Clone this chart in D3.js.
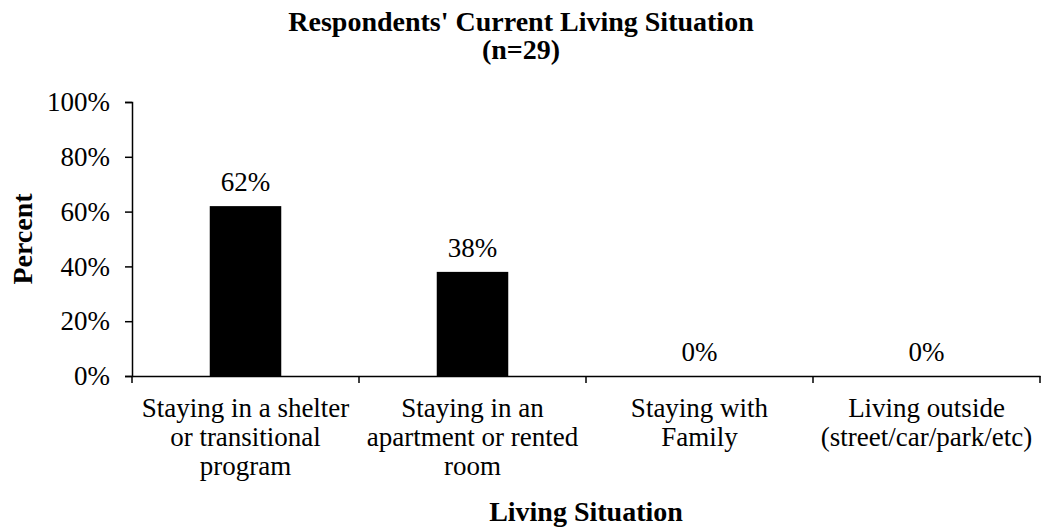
<!DOCTYPE html>
<html><head><meta charset="utf-8">
<script src="https://cdn.jsdelivr.net/npm/d3@7/dist/d3.min.js"></script>
<style>body{margin:0;background:#fff}svg{display:block}</style>
</head><body><svg id="c" width="1042" height="531"></svg>
<script>
const categories = [
  ["Staying in a shelter","or transitional","program"],
  ["Staying in an","apartment or rented","room"],
  ["Staying with","Family"],
  ["Living outside","(street/car/park/etc)"]
];
const values = [62, 38, 0, 0];
const yTicks = [0, 20, 40, 60, 80, 100];

const FF = "'Liberation Serif', 'Times New Roman', Times, 'DejaVu Serif', serif";
const FS = "27px";
const svg = d3.select("#c");
const m = {l:132, r:1040, t:102, b:376};
const x = d3.scaleBand().domain(d3.range(categories.length)).range([m.l, m.r]).padding(0);
const y = d3.scaleLinear().domain([0,100]).range([m.b, m.t]);
const barW = x.bandwidth()*0.315;

svg.selectAll("rect.bar").data(values).join("rect")
  .attr("x",(d,i)=>x(i)+x.bandwidth()/2-barW/2)
  .attr("y",d=>y(d)).attr("width",barW).attr("height",d=>y(0)-y(d)).attr("fill","#000");

const ya = svg.append("g").attr("transform",`translate(${m.l},0)`)
  .call(d3.axisLeft(y).tickValues(yTicks).tickFormat(d=>d+"%").tickSize(7).tickPadding(15));
ya.attr("font-family",null).attr("font-size",null);
ya.select(".domain").attr("stroke","#000").attr("stroke-width",1.5);
ya.selectAll(".tick line").attr("stroke","#000").attr("stroke-width",1.5);
ya.selectAll(".tick text").style("font-family",FF).style("font-size",FS).attr("fill","#000");

const xa = svg.append("g").attr("transform",`translate(0,${m.b})`)
  .call(d3.axisBottom(x).tickValues([]).tickSizeOuter(0));
xa.select(".domain").attr("stroke","#000").attr("stroke-width",1.5);
const bounds = d3.range(categories.length+1).map(i=> i<categories.length? x(i) : m.r);
xa.selectAll("line.tk").data(bounds).join("line").attr("class","tk")
  .attr("x1",d=>d).attr("x2",d=>d).attr("y1",0).attr("y2",7).attr("stroke","#000").attr("stroke-width",1.5);

function txt(){ return svg.append("text").style("font-family",FF).attr("fill","#000"); }

categories.forEach((lines,i)=>{
  const cx = x(i)+x.bandwidth()/2;
  const t = txt().attr("text-anchor","middle").style("font-size",FS).attr("x",cx).attr("y",417);
  lines.forEach((ln,j)=>t.append("tspan").attr("x",cx).attr("dy",j?29:0).text(ln));
});

values.forEach((d,i)=>{
  txt().attr("text-anchor","middle").style("font-size",FS)
    .attr("x",x(i)+x.bandwidth()/2).attr("y",y(d)-15).text(d+"%");
});

txt().attr("x",521).attr("y",31).attr("text-anchor","middle").style("font-size","28px").style("font-weight","bold").text("Respondents' Current Living Situation");
txt().attr("x",521).attr("y",59).attr("text-anchor","middle").style("font-size","28px").style("font-weight","bold").text("(n=29)");
txt().attr("x",(m.l+m.r)/2).attr("y",521).attr("text-anchor","middle").style("font-size","28px").style("font-weight","bold").text("Living Situation");
txt().attr("transform",`translate(32,${(m.t+m.b)/2}) rotate(-90)`).attr("text-anchor","middle").style("font-size","28px").style("font-weight","bold").text("Percent");
</script></body></html>
